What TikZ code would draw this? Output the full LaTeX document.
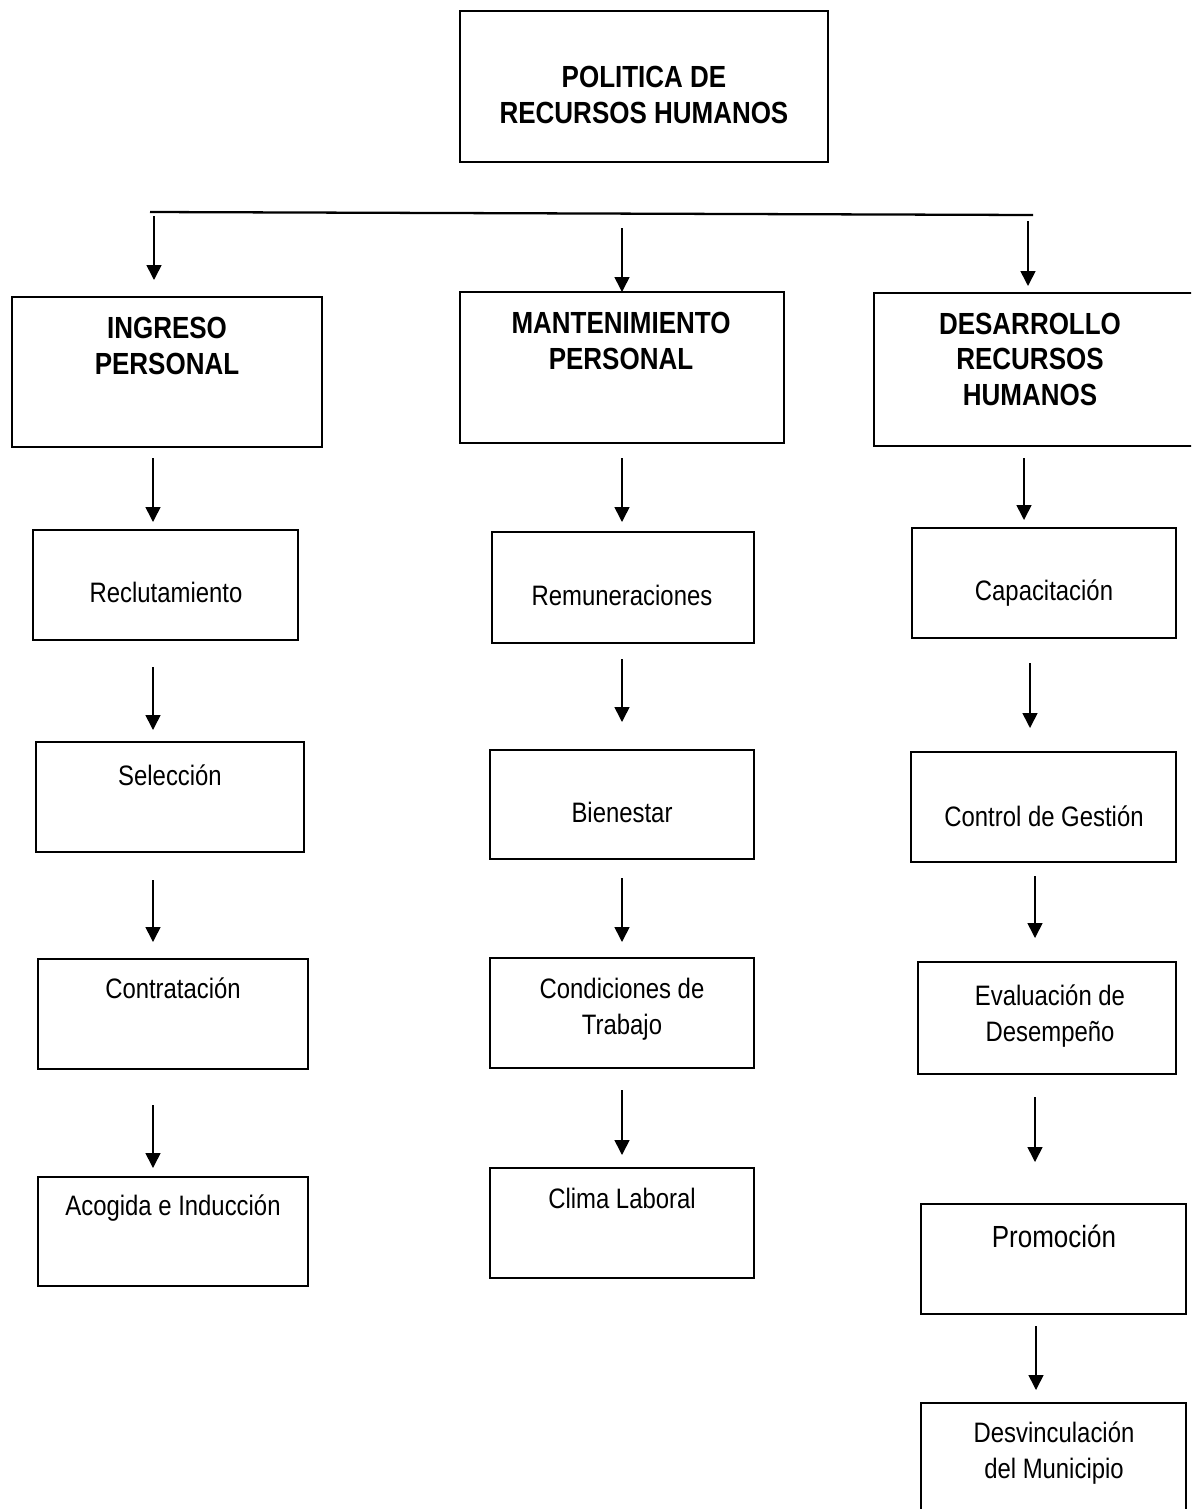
\documentclass[tikz,border=0pt]{standalone}
\usepackage{fontspec}
\setmainfont{Liberation Sans}[FakeStretch=0.85]
\usetikzlibrary{arrows.meta,fit,positioning}

\tikzset{
  caja/.style={draw, line width=1.1pt, inner sep=0pt},
  titulo/.style={font=\bfseries\fontsize{17.4}{20}\selectfont, align=center, anchor=base},
  texto/.style={font=\fontsize{16}{20}\selectfont, align=center, anchor=base},
  flecha/.style={-{Triangle[width=0.3cm,length=0.3cm]}, line width=0.9pt}
}

\begin{document}
\begin{tikzpicture}[x=0.02cm, y=-0.02cm]
  \useasboundingbox (0,0) rectangle (1191,1509);
  \clip (0,0) rectangle (1191,1509);

  % Politica (base = baseline of last line)
  \node[caja, fit={(460,11) (828,162)}] (politica) {};
  \node[titulo] (politicaT) at (644,123) {POLITICA DE\\RECURSOS HUMANOS};

  % Linea de reparto
  \coordinate (izq) at (150,212);
  \coordinate (der) at (1033,215);
  \draw[line width=1.3pt] (izq) -- (der);

  % Areas
  \node[caja, fit={(12,297) (322,447)}] (ingreso) {};
  \node[titulo] (ingresoT) at (167,374) {INGRESO\\PERSONAL};
  \node[caja, fit={(460,292) (784,443)}] (mant) {};
  \node[titulo] (mantT) at (621,369) {MANTENIMIENTO\\PERSONAL};
  \node[caja, fit={(874,293) (1210,446)}] (desarr) {};
  \node[titulo] (desarrT) at (1030,405) {DESARROLLO\\RECURSOS\\HUMANOS};

  % Ingreso personal
  \node[caja, fit={(33,530) (298,640)}] (reclut) {};
  \node[texto] (reclutT) at (166,602) {Reclutamiento};
  \node[caja, fit={(36,742) (304,852)}] (selecc) {};
  \node[texto] (seleccT) at (170,785) {Selección};
  \node[caja, fit={(38,959) (308,1069)}] (contrat) {};
  \node[texto] (contratT) at (173,998) {Contratación};
  \node[caja, fit={(38,1177) (308,1286)}] (acogida) {};
  \node[texto] (acogidaT) at (173,1215) {Acogida e Inducción};

  % Mantenimiento personal
  \node[caja, fit={(492,532) (754,643)}] (remun) {};
  \node[texto] (remunT) at (622,605) {Remuneraciones};
  \node[caja, fit={(490,750) (754,859)}] (bienes) {};
  \node[texto] (bienesT) at (622,822) {Bienestar};
  \node[caja, fit={(490,958) (754,1068)}] (condic) {};
  \node[texto] (condicT) at (622,1034) {Condiciones de\\Trabajo};
  \node[caja, fit={(490,1168) (754,1278)}] (clima) {};
  \node[texto] (climaT) at (622,1208) {Clima Laboral};

  % Desarrollo recursos humanos
  \node[caja, fit={(912,528) (1176,638)}] (capac) {};
  \node[texto] (capacT) at (1044,600) {Capacitación};
  \node[caja, fit={(911,752) (1176,862)}] (control) {};
  \node[texto] (controlT) at (1044,826) {Control de Gestión};
  \node[caja, fit={(918,962) (1176,1074)}] (evalua) {};
  \node[texto] (evaluaT) at (1050,1041) {Evaluación de\\Desempeño};
  \node[caja, fit={(921,1204) (1186,1314)}] (promo) {};
  \node[texto, font=\fontsize{17.4}{20}\selectfont] (promoT) at (1054,1247) {Promoción};
  \node[caja, fit={(921,1403) (1186,1530)}] (desvinc) {};
  \node[texto] (desvincT) at (1054,1478) {Desvinculación\\del Municipio};

  % Flechas (x / inicio / punta)
  \foreach \n/\x/\ya/\yb in {1/154/216/280, 2/622/228/292, 3/1028/221/286,
      4/153/458/522, 5/622/458/522, 6/1024/458/520,
      7/153/667/730, 8/622/659/722, 9/1030/663/728,
      10/153/880/942, 11/622/878/942, 12/1035/876/938,
      13/153/1105/1168, 14/622/1090/1155, 15/1035/1097/1162,
      16/1036/1326/1390} {
    \coordinate (s\n) at (\x,\ya);
    \coordinate (e\n) at (\x,\yb);
    \draw[flecha] (s\n) -- (e\n);
  }
\end{tikzpicture}
\end{document}
